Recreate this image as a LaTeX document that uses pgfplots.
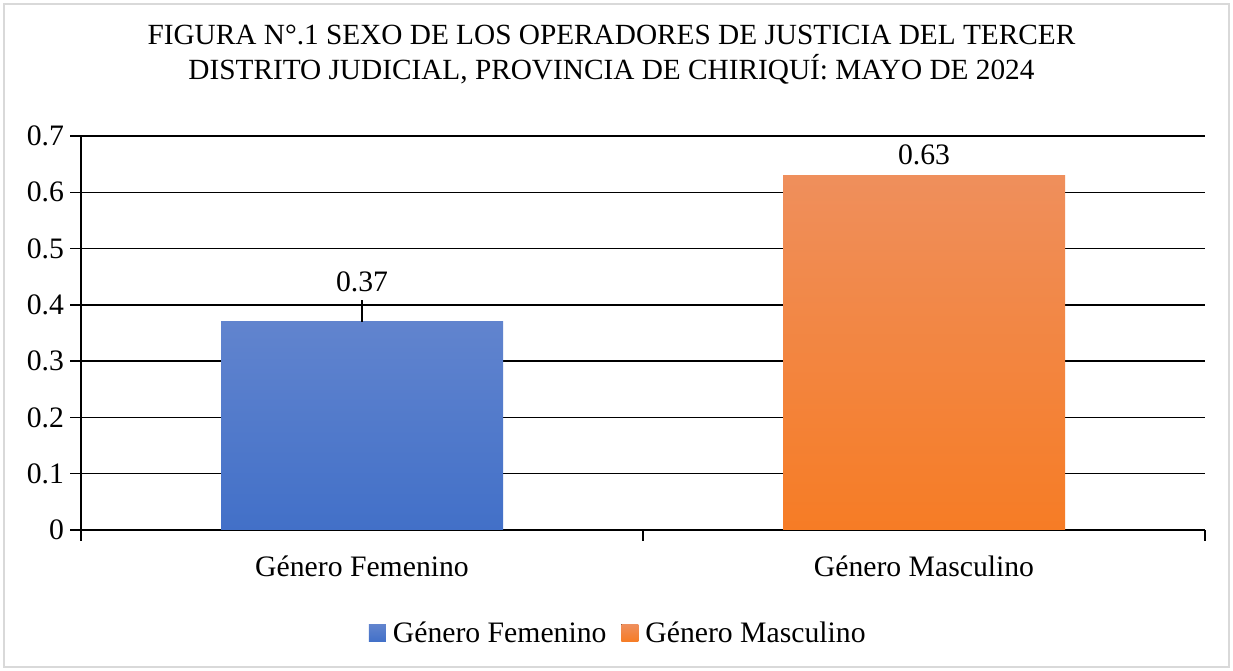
\documentclass[border=0pt]{standalone}
\usepackage{fontspec}
\setmainfont{Liberation Serif}
\usepackage{pgfplots}
\pgfplotsset{compat=1.18}
\definecolor{blueT}{RGB}{97,132,206}
\definecolor{blueB}{RGB}{66,112,200}
\definecolor{orT}{RGB}{239,143,92}
\definecolor{orB}{RGB}{246,124,37}
\definecolor{frameG}{RGB}{217,217,217}
\begin{document}
\begin{tikzpicture}[x=1bp,y=1bp]
\path[use as bounding box] (0,0) rectangle (1233,671);
\fill[white] (0,0) rectangle (1233,671);
\draw[frameG, line width=1.5bp] (4,4) rectangle (1229,667);
\node[font=\fontsize{29.4}{35}\selectfont, align=center, inner sep=0pt] at (611.5,616.5)
  {FIGURA N°.1 SEXO DE LOS OPERADORES DE JUSTICIA DEL TERCER\\DISTRITO JUDICIAL, PROVINCIA DE CHIRIQUÍ: MAYO DE 2024};
\begin{axis}[
  at={(362bp,141bp)}, anchor=origin,
  scale only axis, width=1124bp, height=394bp,
  xmin=-0.5, xmax=1.5, ymin=0, ymax=0.7,
  ytick={0,0.1,0.2,0.3,0.4,0.5,0.6,0.7},
  axis lines*=left,
  axis line style={black, line width=1.5bp},
  ymajorgrids, grid style={black, line width=1.4bp},
  tick align=outside, major tick length=11bp,
  tick style={black, line width=1.5bp},
  xtick={-0.5,0.5,1.5}, xticklabels={},
  extra x ticks={0,1},
  extra x tick labels={Género Femenino, Género Masculino},
  extra x tick style={major tick length=0pt, grid=none},
  xticklabel style={yshift=-22bp},
  /pgf/number format/assume math mode=true,
  ticklabel style={font=\fontsize{29.8}{35}\selectfont},
  yticklabel style={xshift=-2.5bp},
  legend style={at={(0.478,-0.2614)}, anchor=center, draw=none, fill=none,
    font=\fontsize{29.8}{35}\selectfont, legend columns=2,
    /tikz/every even column/.append style={column sep=13bp},
    /tikz/every odd column/.append style={column sep=5bp}},
  legend image code/.code={\fill[#1] (0bp,-8.5bp) rectangle (17bp,8.5bp);},
]
\addplot[ybar, bar width=282bp, bar shift=0pt, draw=none, top color=blueT, bottom color=blueB] coordinates {(0,0.37)};
\addlegendentry{Género Femenino}
\addplot[ybar, bar width=282bp, bar shift=0pt, draw=none, top color=orT, bottom color=orB] coordinates {(1,0.63)};
\addlegendentry{Género Masculino}
\addplot[black, line width=1.3bp, forget plot] coordinates {(0,0.37) (0,0.4085)};
\node[font=\fontsize{29.8}{35}\selectfont] at (axis cs:0,0.4405) {0.37};
\node[font=\fontsize{29.8}{35}\selectfont] at (axis cs:1,0.666) {0.63};
\end{axis}
\end{tikzpicture}
\end{document}
